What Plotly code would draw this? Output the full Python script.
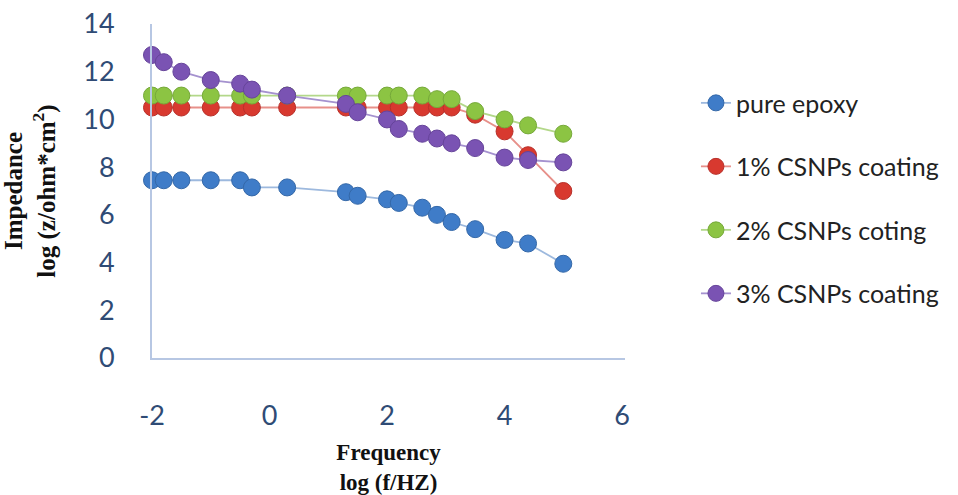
import plotly.graph_objects as go

# log10 of frequency (Hz)
log_freq = [-2.0, -1.8, -1.5, -1.0, -0.5, -0.3, 0.3, 1.3, 1.5, 2.0, 2.2, 2.6, 2.85, 3.1, 3.5, 4.0, 4.4, 5.0]

# log10 of impedance modulus (ohm*cm^2)
pure_epoxy = [7.45, 7.45, 7.45, 7.45, 7.45, 7.15, 7.15, 6.95, 6.8, 6.65, 6.5, 6.3, 6.0, 5.7, 5.4, 4.95, 4.8, 3.95]
csnp_1 = [10.5, 10.5, 10.5, 10.5, 10.5, 10.5, 10.5, 10.5, 10.5, 10.5, 10.5, 10.5, 10.5, 10.5, 10.2, 9.5, 8.5, 7.0]
csnp_2 = [11.0, 11.0, 11.0, 11.0, 11.0, 11.0, 11.0, 11.0, 11.0, 11.0, 11.0, 11.0, 10.85, 10.85, 10.35, 10.0, 9.75, 9.4]
csnp_3 = [12.7, 12.4, 12.0, 11.65, 11.5, 11.25, 11.0, 10.65, 10.3, 10.0, 9.6, 9.4, 9.2, 9.0, 8.8, 8.4, 8.3, 8.2]

series_names = ["pure epoxy", "1% CSNPs coating", "2% CSNPs coting", "3% CSNPs coating"]
x_ticks = [-2, 0, 2, 4, 6]
x_tick_text = ["-2", "0", "2", "4", "6"]
y_ticks = [0, 2, 4, 6, 8, 10, 12, 14]

marker_colors = ["#3f7cc8", "#d8392f", "#8cc443", "#7a53b3"]
line_colors = ["#9db9de", "#e7908a", "#b3d88a", "#a592cf"]
edge_colors = ["#3468a8", "#b8302a", "#76a93a", "#66449a"]

fig = go.Figure()
for i, (name, ys) in enumerate(zip(series_names, [pure_epoxy, csnp_1, csnp_2, csnp_3])):
    fig.add_trace(go.Scatter(
        x=log_freq, y=ys, name=name, mode="lines+markers",
        legendgroup=name,
        line=dict(color=line_colors[i], width=1.8),
        marker=dict(color=marker_colors[i], size=17,
                    line=dict(color=edge_colors[i], width=1)),
        cliponaxis=False,
    ))

tick_font = dict(family="Lato, 'Open Sans', sans-serif", size=27, color="#2f4b75")
serif = "'Liberation Serif', 'Times New Roman', serif"

fig.update_layout(
    width=958, height=495,
    margin=dict(l=152, r=333, t=24, b=137, autoexpand=False),
    plot_bgcolor="white", paper_bgcolor="white",
    showlegend=True,
    legend=dict(
        x=1.15, y=0.832, xanchor="left", yanchor="top",
        font=dict(family="Lato, 'Open Sans', sans-serif", size=25, color="#222222"),
        tracegroupgap=28, bgcolor="rgba(0,0,0,0)",
    ),
    xaxis=dict(
        range=[-2, 6.05], tickvals=x_ticks, ticktext=x_tick_text,
        showgrid=False, zeroline=False, automargin=False,
        showline=True, linecolor="#b7c7e3", linewidth=2,
        tickfont=tick_font, ticks="", ticklabelstandoff=33,
        title=dict(text="<b>Frequency<br>log (f/HZ)</b>",
                   font=dict(family=serif, size=23, color="#111111"), standoff=22),
    ),
    yaxis=dict(
        range=[0, 14], tickvals=y_ticks, showgrid=False, zeroline=False, automargin=False,
        showline=True, linecolor="#b7c7e3", linewidth=2,
        tickfont=tick_font, ticks="", ticklabelstandoff=30,
        title=dict(text="<b>Impedance<br>log (z/ohm*cm<sup>2</sup>)</b>",
                   font=dict(family=serif, size=25, color="#111111"), standoff=22),
    ),
)

fig.write_html("out.html")
